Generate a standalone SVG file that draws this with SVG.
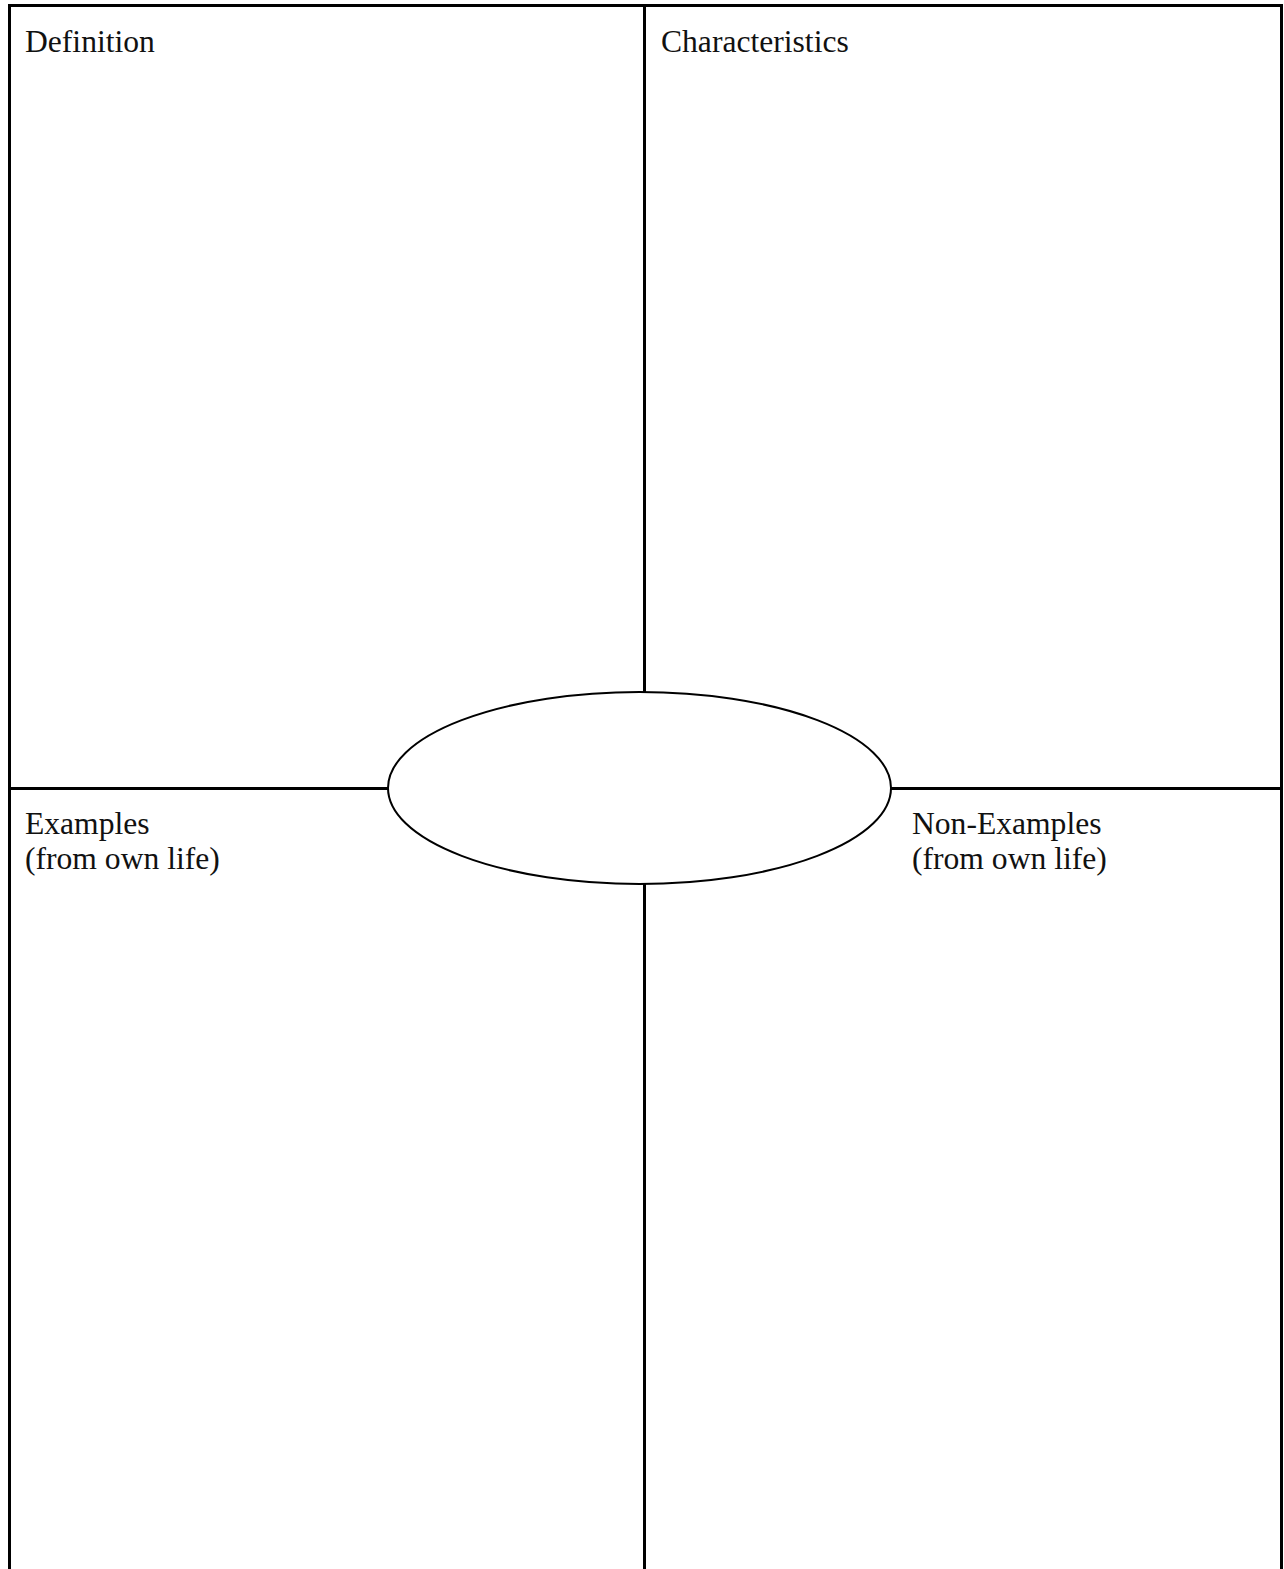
<svg xmlns="http://www.w3.org/2000/svg" width="1284" height="1569" viewBox="0 0 1284 1569">
<style>
.ln{stroke:#000;stroke-width:3;fill:none}
.lbl{font-family:"Liberation Serif","Times New Roman",serif;font-size:31.6px;fill:#111}
</style>
<rect width="1284" height="1569" fill="#fff"/>
<g id="connectors">
<path class="ln" d="M9.5,1569 V5.5 H1281.5 V1569"/>
<line class="ln" x1="644.5" y1="5.5" x2="644.5" y2="692"/>
<line class="ln" x1="644.5" y1="884" x2="644.5" y2="1569"/>
<line class="ln" x1="9.5" y1="788.5" x2="388" y2="788.5"/>
<line class="ln" x1="891" y1="788.5" x2="1281.5" y2="788.5"/>
</g>
<g id="definition"><text class="lbl" x="25" y="52">Definition</text></g>
<g id="characteristics"><text class="lbl" x="661" y="52">Characteristics</text></g>
<g id="examples"><text class="lbl" x="25" y="834">Examples</text><text class="lbl" x="25" y="869">(from own life)</text></g>
<g id="nonexamples"><text class="lbl" x="912" y="834">Non-Examples</text><text class="lbl" x="912" y="869">(from own life)</text></g>
<g id="center"><ellipse cx="639.5" cy="788" rx="251.5" ry="96" fill="#fff" stroke="#000" stroke-width="2"/></g>
</svg>
